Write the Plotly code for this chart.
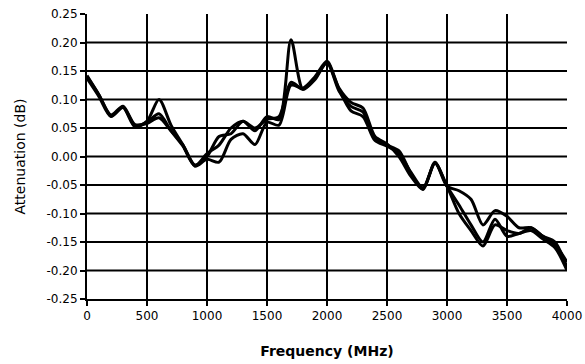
import plotly.graph_objects as go

freq = [0, 100, 200, 300, 400, 500, 600, 700, 800, 900, 1000, 1100, 1200, 1300, 1400,
        1500, 1600, 1700, 1800, 1900, 2000, 2100, 2200, 2300, 2400, 2500, 2600, 2700,
        2800, 2900, 3000, 3100, 3200, 3300, 3400, 3500, 3600, 3700, 3800, 3900, 4000]

s1 = [0.140, 0.108, 0.073, 0.088, 0.056, 0.058, 0.068, 0.045, 0.020, -0.015, 0.000,
      0.035, 0.040, 0.062, 0.045, 0.070, 0.065, 0.205, 0.118, 0.135, 0.165, 0.115,
      0.088, 0.078, 0.030, 0.020, 0.010, -0.030, -0.057, -0.012, -0.052, -0.100,
      -0.130, -0.157, -0.120, -0.130, -0.135, -0.125, -0.140, -0.150, -0.195]
s2 = [0.137, 0.105, 0.070, 0.086, 0.052, 0.062, 0.100, 0.055, 0.020, -0.017, -0.005,
      -0.010, 0.030, 0.040, 0.021, 0.060, 0.055, 0.125, 0.120, 0.140, 0.167, 0.120,
      0.095, 0.085, 0.035, 0.022, 0.000, -0.035, -0.058, -0.010, -0.052, -0.060,
      -0.075, -0.120, -0.095, -0.105, -0.125, -0.125, -0.140, -0.155, -0.185]
s3 = [0.142, 0.108, 0.071, 0.087, 0.054, 0.060, 0.075, 0.045, 0.018, -0.016, 0.005,
      0.020, 0.050, 0.062, 0.050, 0.065, 0.070, 0.130, 0.118, 0.138, 0.164, 0.118,
      0.080, 0.070, 0.028, 0.018, 0.005, -0.028, -0.055, -0.012, -0.052, -0.085,
      -0.120, -0.150, -0.110, -0.140, -0.135, -0.130, -0.145, -0.160, -0.200]

x_ticks = [0, 500, 1000, 1500, 2000, 2500, 3000, 3500, 4000]
y_ticks = [-0.25, -0.20, -0.15, -0.10, -0.05, 0.00, 0.05, 0.10, 0.15, 0.20, 0.25]

fig = go.Figure()
for s in (s1, s2, s3):
    fig.add_trace(go.Scatter(x=freq, y=s, mode="lines",
                             line=dict(color="black", width=3, shape="spline", smoothing=0.8),
                             showlegend=False))

shapes = []
for t in x_ticks[1:-1]:
    shapes.append(dict(type="line", xref="x", yref="paper", x0=t, x1=t, y0=0, y1=1,
                       line=dict(color="black", width=2), layer="below"))
for t in y_ticks[1:-1]:
    shapes.append(dict(type="line", xref="paper", yref="y", x0=0, x1=1, y0=t, y1=t,
                       line=dict(color="black", width=2), layer="below"))

font = "DejaVu Sans, Arial, sans-serif"
fig.update_layout(
    width=585, height=364,
    margin=dict(l=87, r=18, t=14, b=65),
    paper_bgcolor="white", plot_bgcolor="white",
    shapes=shapes,
    font=dict(family=font, color="black", size=12),
    xaxis=dict(range=[0, 4000], tickvals=x_ticks, ticktext=[str(v) for v in x_ticks],
               automargin=False,
               showgrid=False, zeroline=False, showline=True, linecolor="black", linewidth=2,
               ticks="outside", ticklen=5, tickwidth=2, tickcolor="black",
               tickfont=dict(size=12),
               title=dict(text="<b>Frequency (MHz)</b>", font=dict(size=14), standoff=24)),
    yaxis=dict(range=[-0.25, 0.25], tickvals=y_ticks,
               ticktext=[f"{v:.2f}" for v in y_ticks],
               automargin=False,
               showgrid=False, zeroline=False, showline=True, linecolor="black", linewidth=2,
               ticks="outside", ticklen=5, tickwidth=2, tickcolor="black",
               tickfont=dict(size=12),
               title=dict(text="Attenuation (dB)", font=dict(size=14), standoff=18)),
)

fig.write_html("out.html")
